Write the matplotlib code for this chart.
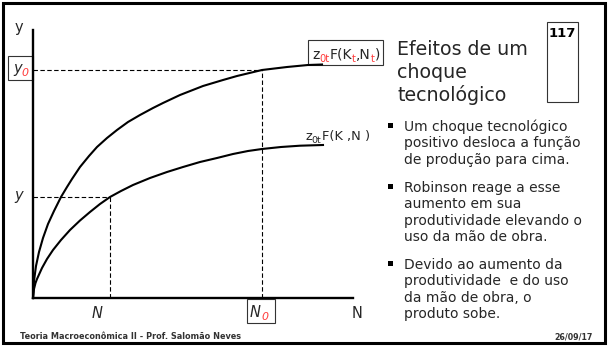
"""Slide 117: production function shifted by a technology shock."""

import matplotlib

matplotlib.use("Agg")
import matplotlib.pyplot as plt
from matplotlib.patches import Rectangle

W, H = 608, 346
TXT = "#262626"
RED = "#ff3b3b"

# curves (x = labour, y = output, arbitrary units)
upper_n = [0, 1, 3, 6, 10, 15, 21, 28, 34, 39, 47, 56, 64, 74, 84, 95, 107, 120, 130,
           147, 170, 190, 204, 229, 254, 275, 289]
upper_y = [0, 17, 32, 46, 60, 74, 87, 101, 111, 119, 131, 142, 151, 160, 168, 176, 183, 190, 195,
           203, 212, 218, 222, 228, 231, 233, 233.5]
lower_n = [0, 1, 2.5, 4, 9, 14, 20, 28, 37, 47, 57, 67, 77, 88, 100, 117, 134, 150, 167,
           184, 200, 215, 229, 248, 267, 290]
lower_y = [0, 9, 15, 19, 30, 39, 48, 58, 68, 77.5, 86, 94, 101, 107, 113, 120, 126, 131, 136,
           140, 144, 147, 149, 151, 152.3, 153]

# equilibrium points
n_before, y_before = 77, 101
n_after, y_after = 229, 228

title_lines = ["Efeitos de um", "choque", "tecnológico"]
bullets = [
    ["Um choque tecnológico", "positivo desloca a função", "de produção para cima."],
    ["Robinson reage a esse", "aumento em sua", "produtividade elevando o", "uso da mão de obra."],
    ["Devido ao aumento da", "produtividade  e do uso", "da mão de obra, o", "produto sobe."],
]
footer = "Teoria Macroeconômica II - Prof. Salomão Neves"
date = "26/09/17"
slide_no = "117"


def fx(x):
    return x / W


def fy(y):
    return 1 - y / H


fig = plt.figure(figsize=(W / 100, H / 100), dpi=100)
renderer = fig.canvas.get_renderer()

# slide layer in pixel coordinates
bg = fig.add_axes([0, 0, 1, 1])
bg.set_xlim(0, W)
bg.set_ylim(H, 0)
bg.axis("off")
bg.add_patch(Rectangle((3, 2.5), 601.5, 340.5, fill=False, lw=2.2, ec="black"))

# chart
ax = fig.add_axes([fx(33), fy(298), 320 / W, 268 / H])
ax.set_xlim(0, 320)
ax.set_ylim(0, 268)
for side in ("top", "right"):
    ax.spines[side].set_visible(False)
for side in ("left", "bottom"):
    ax.spines[side].set_linewidth(1.7)
    ax.spines[side].set_zorder(5)
ax.set_xticks([])
ax.set_yticks([])
ax.patch.set_alpha(0)

ax.plot(upper_n, upper_y, color="black", lw=1.5, clip_on=False, solid_joinstyle="round")
ax.plot(lower_n, lower_y, color="black", lw=1.5, clip_on=False, solid_joinstyle="round")

dash = dict(color="black", lw=0.8, ls=(0, (4, 2.2)))
ax.plot([0, n_after], [y_after, y_after], **dash)
ax.plot([n_after, n_after], [0, y_after], **dash)
ax.plot([0, n_before], [y_before, y_before], **dash)
ax.plot([n_before, n_before], [0, y_before], **dash)


def runs(x, y, parts, size, **kw):
    """Draw consecutive text pieces: (text, color, style, dy, scale)."""
    for s, color, style, dy, scale in parts:
        t = fig.text(fx(x), fy(y + dy), s, color=color, style=style,
                     fontsize=size * scale, va="baseline", ha="left", **kw)
        x += t.get_window_extent(renderer).width
    return x


# boxes
for (x0, y0, w, h) in [(8, 56, 25, 24), (247, 299, 28, 24), (308, 40, 75, 25), (547, 22, 31, 80)]:
    bg.add_patch(Rectangle((x0, y0), w, h, fill=False, lw=0.8, ec="#333333"))

# axis labels
fig.text(fx(15), fy(32), "y", fontsize=10.5, color=TXT, va="baseline")
runs(13, 73, [("y", TXT, "italic", 0, 1), ("0", RED, "italic", 3, 0.75)], 10.5)
fig.text(fx(14), fy(200), "y", fontsize=10.5, color=TXT, style="italic", va="baseline")
fig.text(fx(92), fy(318), "N", fontsize=10.5, color=TXT, style="italic", va="baseline")
runs(250, 317, [("N", TXT, "italic", 0, 1), ("0", RED, "italic", 3, 0.75)], 10.5)
fig.text(fx(352), fy(318), "N", fontsize=10.5, color=TXT, va="baseline")

# curve labels
runs(312, 59, [("z", TXT, "normal", 0, 1), ("0t", RED, "normal", 3, 0.72),
               ("F(K", TXT, "normal", 0, 1), ("t", RED, "normal", 3, 0.72),
               (",N", TXT, "normal", 0, 1), ("t", RED, "normal", 3, 0.72),
               (")", TXT, "normal", 0, 1)], 10)
runs(305, 140, [("z", TXT, "normal", 0, 1), ("0t", TXT, "normal", 3, 0.72),
                ("F(K ", TXT, "normal", 0, 1), (",N ", TXT, "normal", 0, 1),
                (")", TXT, "normal", 0, 1)], 9.4)

# title and slide number
for i, line in enumerate(title_lines):
    fig.text(fx(397), fy(55 + 23 * i), line, fontsize=13.7, color=TXT, va="baseline")
fig.text(fx(549), fy(37), slide_no, fontsize=9.5, weight="bold", color="black", va="baseline")

# bullets
starts = [131, 192, 269]
for start, lines in zip(starts, bullets):
    bg.add_patch(Rectangle((387.5, start - 8), 5, 5, color="black", lw=0))
    for j, line in enumerate(lines):
        fig.text(fx(404), fy(start + 16.3 * j), line, fontsize=10, color=TXT, va="baseline")

fig.text(fx(20), fy(339), footer, fontsize=5.9, weight="bold", color="#333333", va="baseline")
fig.text(fx(593), fy(339), date, fontsize=5.7, weight="bold", color="#333333", va="baseline", ha="right")

fig.savefig("out.png", dpi=100)
plt.close(fig)
